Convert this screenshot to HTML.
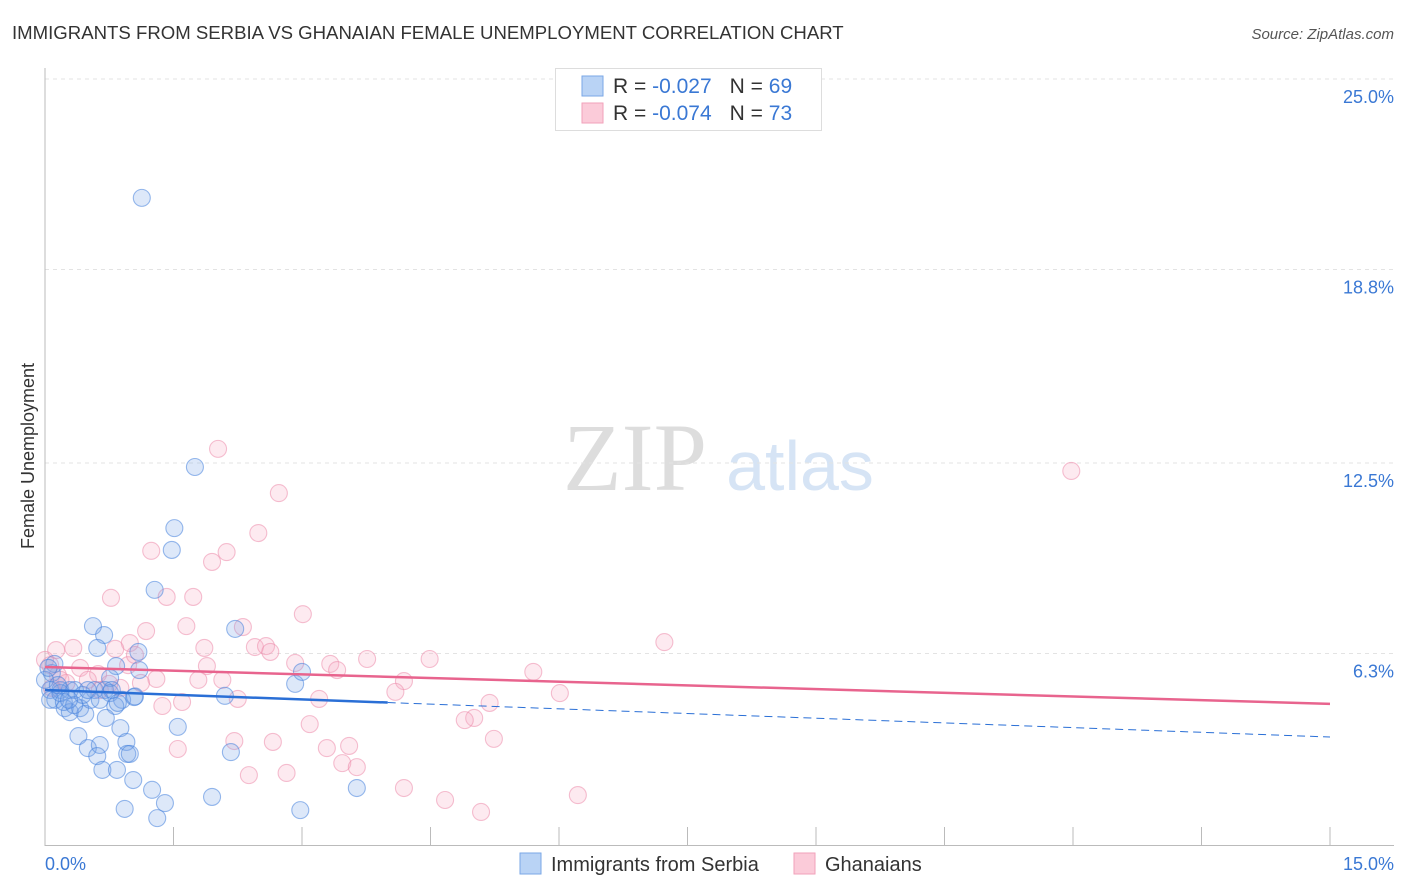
<!DOCTYPE html>
<html><head><meta charset="utf-8"><style>
body{margin:0;background:#fff;font-family:"Liberation Sans",sans-serif;}
svg{display:block}
</style></head><body>
<svg id="chart" width="1406" height="892">
<text x="12" y="39" font-size="18.6" fill="#333">IMMIGRANTS FROM SERBIA VS GHANAIAN FEMALE UNEMPLOYMENT CORRELATION CHART</text>
<text x="1394" y="39" font-size="15" fill="#555" font-style="italic" text-anchor="end">Source: ZipAtlas.com</text>
<g>
<text x="635" y="490" font-family="Liberation Serif,serif" font-size="96" fill="#ddd" text-anchor="middle">ZIP</text>
<text x="800" y="490" font-size="70" fill="#d6e4f5" text-anchor="middle">atlas</text>
</g>
<g id="grid"></g>
<g id="axes"></g>
<g id="marks"></g>
<g id="trend"></g>
<text transform="translate(34,456) rotate(-90)" font-size="18" fill="#333" text-anchor="middle">Female Unemployment</text>
<text x="45" y="870" font-size="18" fill="#3a78d4">0.0%</text>
<text x="1394" y="870" font-size="18" fill="#3a78d4" text-anchor="end">15.0%</text>
<g>
<rect x="555.5" y="68.5" width="266" height="62" fill="#fff" stroke="#ddd"/>
<rect x="582" y="76" width="21" height="20" fill="#b9d3f5" stroke="#7aa7e6"/>
<rect x="582" y="103" width="21" height="20" fill="#fbcbd9" stroke="#f2a2ba"/>
<text x="613" y="93" font-size="21" fill="#333">R = <tspan fill="#3a78d4">-0.027</tspan><tspan dx="18">N = </tspan><tspan fill="#3a78d4">69</tspan></text>
<text x="613" y="120" font-size="21" fill="#333">R = <tspan fill="#3a78d4">-0.074</tspan><tspan dx="18">N = </tspan><tspan fill="#3a78d4">73</tspan></text>
</g>
<g><rect x="520" y="853" width="21" height="21" fill="#b9d3f5" stroke="#7aa7e6"/><text x="551" y="871" font-size="20" fill="#333">Immigrants from Serbia</text></g>
<g><rect x="794" y="853" width="21" height="21" fill="#fbcbd9" stroke="#f2a2ba"/><text x="825" y="871" font-size="20" fill="#333">Ghanaians</text></g>
</svg>
<script>
const yTicks=[6.3,12.5,18.8,25.0];
const yTickLabels=["6.3%","12.5%","18.8%","25.0%"];
const xTicks=[0,1.5,3,4.5,6,7.5,9,10.5,12,13.5,15];
const blueX=[1.13,1.75,1.51,1.48,1.28,0.56,0.69,0.61,2.22,1.09,0.83,1.10,0.11,0.08,0.76,0.06,0.18,0.29,0.35,0.58,0.70,0.76,0.90,1.04,2.10,2.92,3.00,0.06,0.12,0.23,0.29,0.41,0.47,0.53,0.82,0.71,0.88,1.55,0.39,0.50,0.64,0.95,0.61,0.96,0.99,0.67,0.84,1.03,1.25,2.17,1.95,3.64,1.40,0.93,2.98,1.31,0.18,0.0,0.04,0.22,0.34,0.44,0.78,0.85,0.50,0.28,0.64,0.15,1.05];
const blueY=[21.13,12.37,10.38,9.67,8.37,7.19,6.90,6.48,7.10,6.35,5.89,5.76,5.96,5.66,5.50,5.11,5.11,5.11,5.11,5.11,5.11,5.01,4.79,4.88,4.92,5.31,5.70,4.79,4.79,4.52,4.39,4.52,4.33,4.79,4.59,4.20,3.87,3.91,3.61,3.22,3.32,3.42,2.96,3.03,3.03,2.51,2.51,2.18,1.86,3.09,1.63,1.92,1.43,1.24,1.20,0.94,5.01,5.44,5.83,4.72,4.62,4.95,5.11,4.69,5.11,4.79,4.79,5.27,4.90];
const pinkX=[11.98,2.02,2.73,2.49,1.24,2.12,1.95,0.77,1.42,1.73,3.01,2.31,1.18,1.65,0.99,7.23,0.33,1.86,2.45,2.58,2.63,0.82,0.13,3.76,4.49,2.92,3.33,1.89,3.41,5.70,0.41,0.62,0.15,4.19,2.07,1.79,1.30,1.12,0.25,0.88,0.64,6.01,4.09,2.25,3.20,1.60,5.19,1.37,5.01,4.90,3.09,5.24,2.21,2.66,3.55,3.29,1.55,3.47,3.64,2.38,2.82,4.19,6.22,4.67,5.09,0.06,0.18,0.50,0.97,0.0,1.05,0.75,0.08];
const pinkY=[12.24,12.96,11.52,10.22,9.64,9.60,9.28,8.11,8.14,8.14,7.58,7.16,7.03,7.19,6.64,6.67,6.48,6.48,6.51,6.54,6.35,6.45,6.41,6.12,6.12,5.99,5.96,5.89,5.76,5.70,5.83,5.63,5.60,5.40,5.44,5.44,5.47,5.34,5.34,5.18,5.11,5.01,5.05,4.82,4.82,4.72,4.69,4.59,4.20,4.13,4.00,3.52,3.45,3.42,3.29,3.22,3.19,2.73,2.60,2.34,2.41,1.92,1.69,1.53,1.14,5.92,5.44,5.44,5.92,6.09,6.25,5.31,5.18];
const trendX=[0,15];
const blueTrend=[5.11,3.58];
const blueSolidEnd=4.0;
const pinkTrend=[5.86,4.66];

const NS="http://www.w3.org/2000/svg";
const X0=45,X1=1330,Y0=847,YP=30.72;
function sx(v){return X0+(X1-X0)*v/15;}
function sy(v){return Y0-v*YP;}
function mk(tag,attrs,parent){const e=document.createElementNS(NS,tag);for(const k in attrs)e.setAttribute(k,attrs[k]);document.getElementById(parent).appendChild(e);return e;}
yTicks.forEach((t,i)=>{
 const y=sy(t);
 const l=mk('line',{x1:45,x2:1394,y1:y,y2:y,stroke:'#e3e3e3','stroke-dasharray':'4,4'},'grid');
 
 
 const tx=mk('text',{x:1394,y:y+24,'font-size':18,fill:'#3a78d4','text-anchor':'end'},'grid');
 tx.textContent=yTickLabels[i];
 
 
});
let ya=mk('line',{x1:45,x2:45,y1:68,y2:846,stroke:'#bbb'},'axes');


let xa=mk('line',{x1:45,x2:1394,y1:845.5,y2:845.5,stroke:'#bbb'},'axes');


xTicks.forEach(t=>{
 const x=sx(t);
 const l=mk('line',{x1:x,x2:x,y1:827,y2:846,stroke:'#bbb'},'axes');
 
 
});
function dots(xs,ys,fill,stroke,name){
 xs.forEach((v,i)=>{
  const c=mk('circle',{cx:sx(v),cy:sy(ys[i]),r:8.5,fill:fill,stroke:stroke,'stroke-width':1.1},'marks');
  
  
 });
}
dots(pinkX,pinkY,'rgba(246,170,195,0.25)','rgba(236,140,172,0.55)','ghanaian-point');
dots(blueX,blueY,'rgba(120,165,232,0.25)','rgba(70,130,220,0.55)','serbia-point');
function at(arr,x){return arr[0]+(arr[1]-arr[0])*(x-trendX[0])/(trendX[1]-trendX[0]);}
let pl=mk('line',{x1:sx(trendX[0]),y1:sy(pinkTrend[0]),x2:sx(trendX[1]),y2:sy(pinkTrend[1]),stroke:'#e8648e','stroke-width':2.5},'trend');


let bl=mk('line',{x1:sx(trendX[0]),y1:sy(blueTrend[0]),x2:sx(blueSolidEnd),y2:sy(at(blueTrend,blueSolidEnd)),stroke:'#2a6fd6','stroke-width':2.5},'trend');


let bd=mk('line',{x1:sx(blueSolidEnd),y1:sy(at(blueTrend,blueSolidEnd)),x2:sx(trendX[1]),y2:sy(blueTrend[1]),stroke:'#2a6fd6','stroke-width':1,'stroke-dasharray':'8,5'},'trend');


</script>
</body></html>
